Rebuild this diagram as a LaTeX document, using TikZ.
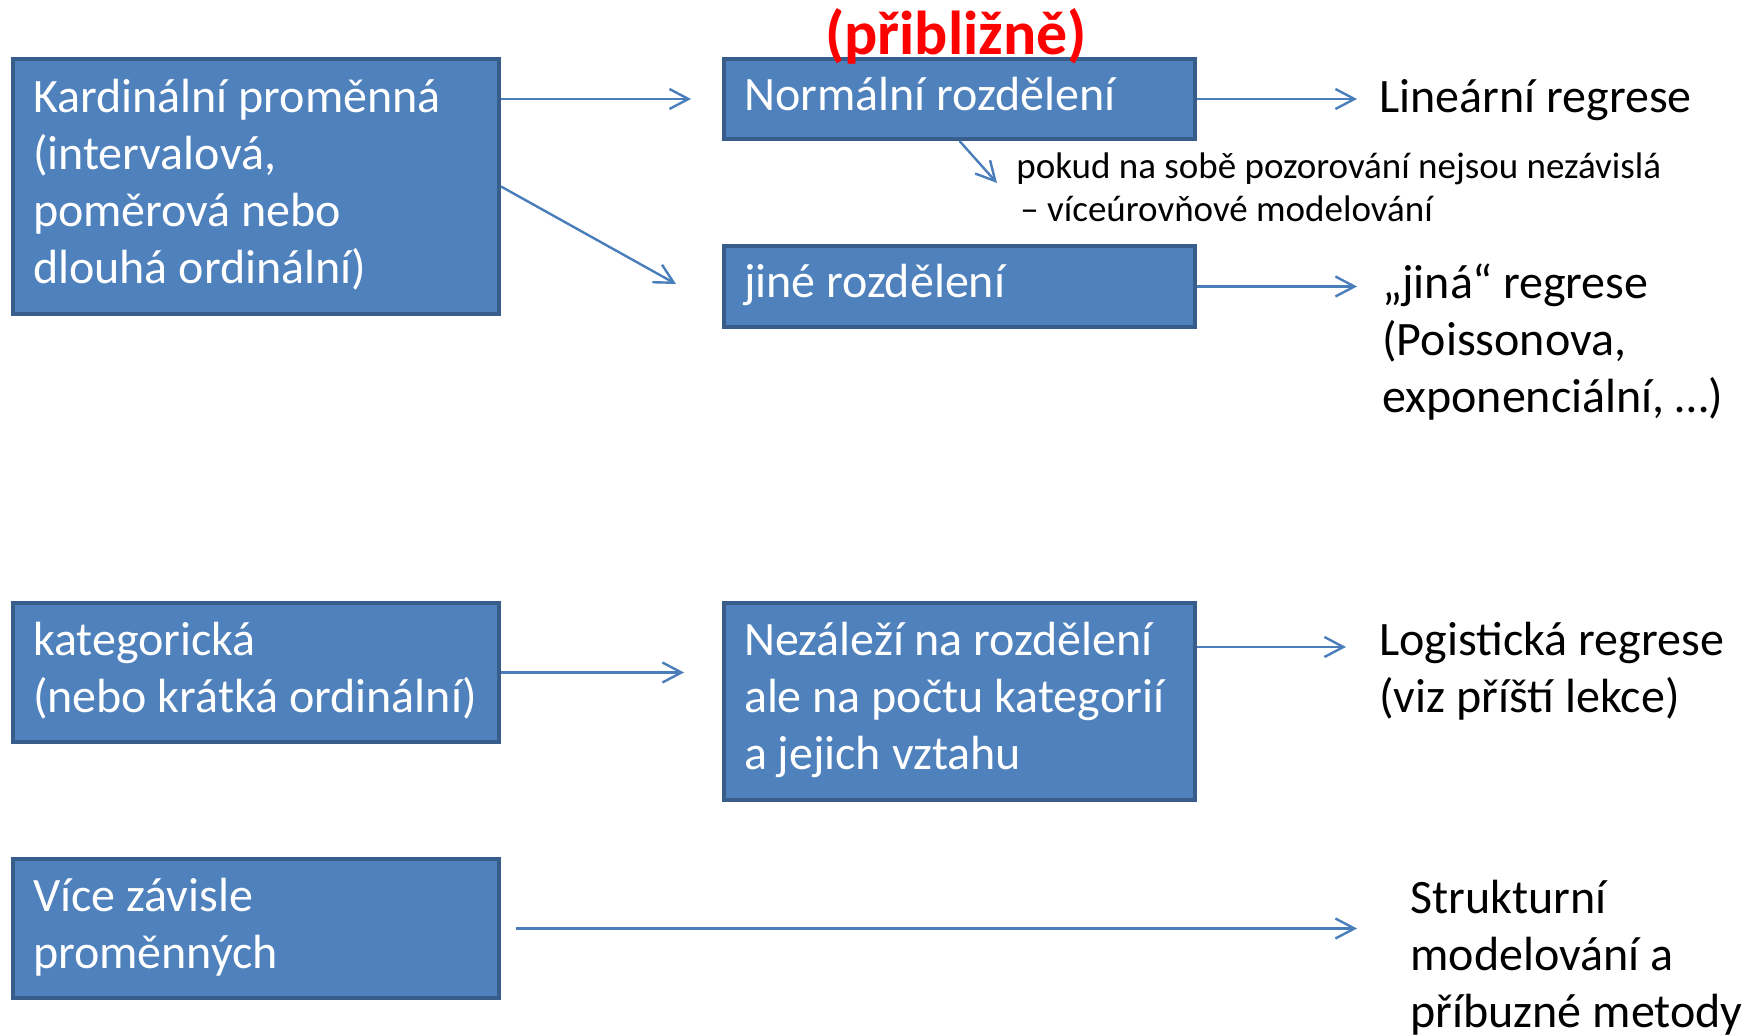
\documentclass[tikz,border=0pt]{standalone}
\usepackage{fontspec}
\setmainfont{Carlito}
\usetikzlibrary{arrows.meta}
\definecolor{boxfill}{HTML}{4F81BD}
\definecolor{boxline}{HTML}{385D8A}
\definecolor{arrowblue}{HTML}{4A7EBB}
\newcommand{\lines}[1]{\begin{tabular}[t]{@{}l@{}}#1\end{tabular}}
\newcommand{\boxlines}[1]{\spaceskip=0pt\xspaceskip=0pt\begin{tabular}{@{}l@{}}#1\end{tabular}}
\tikzset{
	varbox/.style={draw=boxline, line width=2pt, fill=boxfill, text=white, anchor=north west, align=left,
		inner xsep=10pt, inner ysep=0pt, font=\fontsize{24}{28.5}\selectfont},
	outtext/.style={anchor=base west, inner sep=0pt, font=\fontsize{24}{28.5}\selectfont},
	arr/.style={draw=arrowblue, line width=1.2pt, -{Straight Barb[length=9.5pt,width=10pt]}}
}

\begin{document}
\begin{tikzpicture}[x=0.5pt, y=-0.5pt]
	\useasboundingbox (0,0) rectangle (1756,1036);

	\node[varbox, minimum width=243pt, minimum height=127.5pt, text width=223pt] (card) at (11,57)
		{\boxlines{Kardinální proměnná\\(intervalová,\\poměrová nebo\\dlouhá ordinální)}};
	\node[varbox, minimum width=235.5pt, minimum height=40pt, text width=215.5pt] (normal) at (722,57)
		{\boxlines{Normální rozdělení}};
	\node[varbox, minimum width=235.5pt, minimum height=40.5pt, text width=215.5pt] (jine) at (722,244)
		{\boxlines{jiné rozdělení}};
	\node[varbox, minimum width=243pt, minimum height=69.5pt, text width=223pt] (kat) at (11,601)
		{\boxlines{kategorická\\(nebo krátká ordinální)}};
	\node[varbox, minimum width=235.5pt, minimum height=98.5pt, text width=215.5pt] (nez) at (722,601)
		{\boxlines{Nezáleží na rozdělení\\ale na počtu kategorií\\a jejich vztahu}};
	\node[varbox, minimum width=243pt, minimum height=69.5pt, text width=223pt] (vice) at (11,857)
		{\boxlines{Více závisle\\proměnných}};

	\node[anchor=base, inner sep=0pt, text=red, font=\bfseries\fontsize{31}{37}\selectfont] (approx) at (956,55) {(přibližně)};

	\node[outtext] (lin) at (1379,113) {Lineární regrese};
	\node[outtext] (jina) at (1382,299) {\lines{„jiná“ regrese\\(Poissonova,\\exponenciální, …)}};
	\node[outtext] (logit) at (1379,656) {\lines{Logistická regrese\\(viz příští lekce)}};
	\node[outtext] (strukt) at (1410,913) {\lines{Strukturní\\modelování a\\příbuzné metody}};
	\node[outtext, font=\fontsize{18.5}{21.5}\selectfont] (pokud) at (1016,179)
		{\lines{pokud na sobě pozorování nejsou nezávislá\\\hspace{2pt}– víceúrovňové modelování}};

	\coordinate (pokudtip) at (997,183);
	\coordinate (jinetip) at (676,284);
	\coordinate (logtip) at (1346,647);

	\draw[arr, shorten >=15.5pt] (card.east |- normal.west) -- (normal.west);
	\draw[arr] (card.east) -- (jinetip);
	\draw[arr, shorten >=11pt] (normal.east) -- (normal.east -| lin.west);
	\draw[arr] (normal.south) -- (pokudtip);
	\draw[arr, shorten >=12.5pt] (jine.east) -- (jine.east -| jina.west);
	\draw[arr, shorten >=19pt] (kat.east) -- (kat.east -| nez.west);
	\draw[arr] (nez.east |- logtip) -- (logtip);
	\draw[arr, shorten <=7.5pt, shorten >=26.5pt] (vice.east) -- (vice.east -| strukt.west);
\end{tikzpicture}
\end{document}
